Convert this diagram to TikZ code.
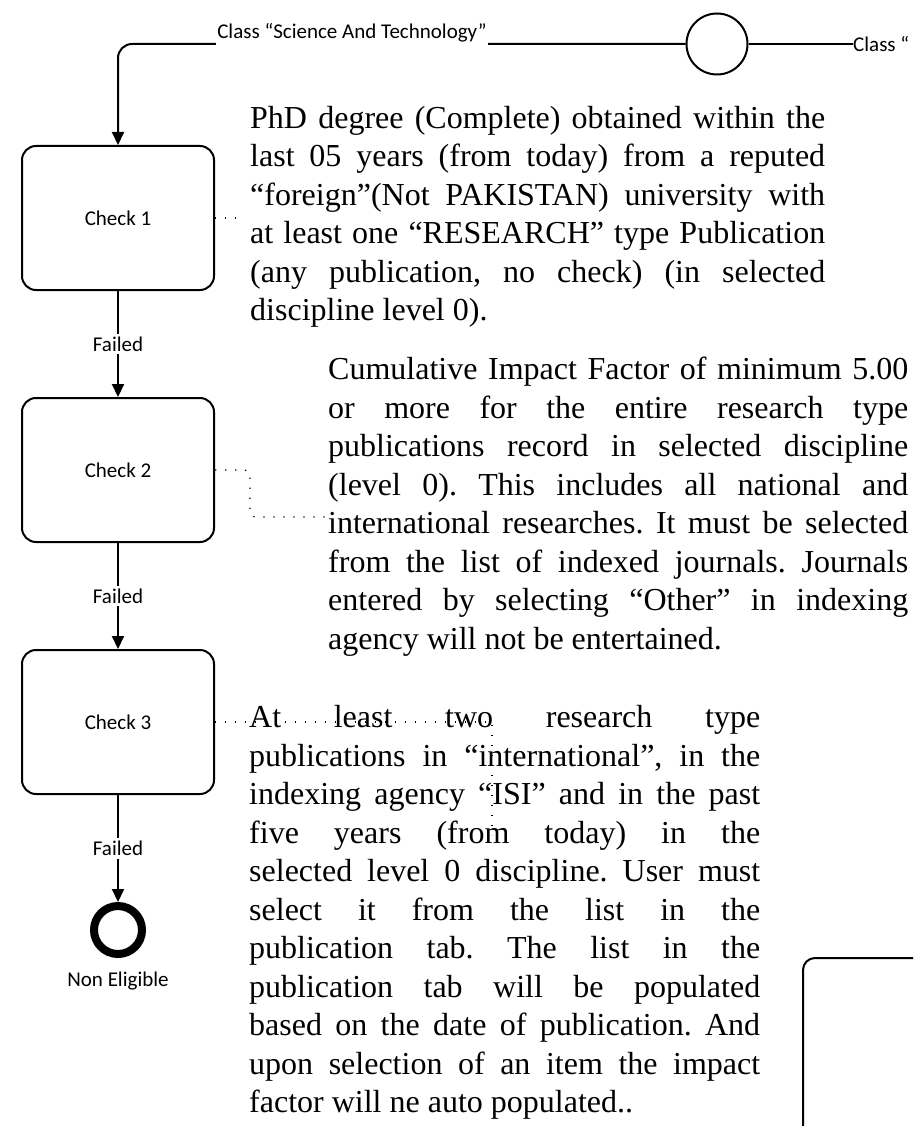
\documentclass[tikz,border=0pt]{standalone}
\usepackage{fontspec}
\setmainfont{Liberation Serif}
\newfontfamily\lblfont{Carlito}
\usetikzlibrary{arrows.meta}
\frenchspacing
\newcommand\jline[2]{\makebox[#1][s]{\strut#2}\\}

\begin{document}
\begin{tikzpicture}[x=1pt,y=-1pt,
    task/.style={draw,line width=2pt,rounded corners=14pt,minimum width=192pt,minimum height=144pt,inner sep=0pt,font=\lblfont\fontsize{21}{25}\selectfont},
    flow/.style={line width=2pt,-{Triangle[length=13pt,width=12pt]}},
    assoc/.style={line width=1.3pt,dash pattern=on 1.3pt off 8.7pt},
    lbl/.style={fill=white,inner xsep=1pt,inner ysep=3pt,font=\lblfont\fontsize{21}{25}\selectfont},
    note/.style={anchor=north west,inner sep=0pt,align=left,font=\fontsize{32}{38.5}\selectfont}]
  \useasboundingbox (0,0) rectangle (913,1126);
  \clip (0,0) rectangle (913,1126);
  \node[task] (c1) at (118,218) {Check 1};
  \node[task] (c2) at (118,470) {Check 2};
  \node[task] (c3) at (118,722) {Check 3};
  \node[circle,draw,line width=2pt,minimum size=61pt,inner sep=0pt] (gw) at (717,44) {};
  \node[circle,draw,line width=8pt,minimum size=48pt,inner sep=0pt] (end) at (118,930) {};
  \node[lbl,fill=none] (ne) at (118,981) {Non Eligible};
  \node[lbl,fill=none,anchor=west,inner sep=0pt] (cls) at (853,44) {Class “};
  \node[task,minimum width=200pt,minimum height=250pt,rounded corners=12pt,anchor=north west] (t4) at (802,957) {};
  \begin{scope}[assoc]
    \draw (c1.east) -- (242,218);
    \draw[rounded corners=6pt] (c2.east) -- (250,470) -- (250,517) -- (326,517);
    \draw (c3.east) -- (492,722) -- (492,835);
  \end{scope}
  \draw[flow,rounded corners=14pt] (gw.west) -| (c1.north);
  \node[lbl,anchor=base] (sci) at (352,39) {Class “Science And Technology”};
  \draw[line width=2pt] (gw.east) -- (cls.west);
  \draw[flow] (c1) -- node[lbl] {Failed} (c2);
  \draw[flow] (c2) -- node[lbl] {Failed} (c3);
  \draw[flow] (c3) -- node[lbl] {Failed} (end);
  \node[note] (p1) at (250,101) {\jline{575pt}{PhD degree (Complete) obtained within the}
    \jline{575pt}{last 05 years (from today) from a reputed}
    \jline{575pt}{“foreign”(Not PAKISTAN) university with}
    \jline{575pt}{at least one “RESEARCH” type Publication}
    \jline{575pt}{(any publication, no check) (in selected}
    \strut discipline level 0).};
  \node[note] (p2) at (328,352.5) {\jline{580pt}{Cumulative Impact Factor of minimum 5.00}
    \jline{580pt}{or more for the entire research type}
    \jline{580pt}{publications record in selected discipline}
    \jline{580pt}{(level 0). This includes all national and}
    \jline{580pt}{international researches. It must be selected}
    \jline{580pt}{from the list of indexed journals. Journals}
    \jline{580pt}{entered by selecting “Other” in indexing}
    \strut agency will not be entertained.};
  \node[note] (p3) at (249,700.5) {\jline{511pt}{At least two research type}
    \jline{511pt}{publications in “international”, in the}
    \jline{511pt}{indexing agency “ISI” and in the past}
    \jline{511pt}{five years (from today) in the}
    \jline{511pt}{selected level 0 discipline. User must}
    \jline{511pt}{select it from the list in the}
    \jline{511pt}{publication tab. The list in the}
    \jline{511pt}{publication tab will be populated}
    \jline{511pt}{based on the date of publication. And}
    \jline{511pt}{upon selection of an item the impact}
    \strut factor will ne auto populated..};
\end{tikzpicture}
\end{document}
